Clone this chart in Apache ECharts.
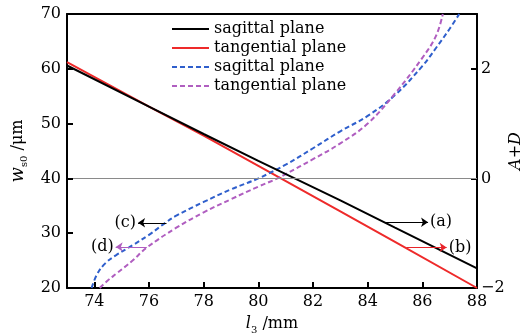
<!DOCTYPE html>
<html>
<head>
<meta charset="utf-8">
<script src="https://cdn.jsdelivr.net/npm/echarts@6/dist/echarts.min.js"></script>
<style>
  html, body { margin: 0; padding: 0; background: #fff; }
  #chart { width: 520px; height: 335px; }
</style>
</head>
<body>
<div id="chart"></div>
<script>
  // waist radius w_s0 (um) vs l3 (mm), solid lines, left axis
  var xSag = [73, 76, 78, 80, 83, 85, 88];
  var wSag = [60.6, 53.1, 48.1, 43.2, 36.0, 31.0, 23.6];
  var xTan = [73, 76, 78, 80, 83, 85, 88];
  var wTan = [61.2, 53.1, 47.8, 42.3, 34.0, 28.4, 20.0];
  // stability parameter A+D, dashed lines, right axis
  var xSagAD = [73.9, 74.1, 74.4, 74.8, 75.4, 76.0, 76.6, 77.0, 78.0, 79.0, 80.0, 81.0, 82.0, 83.0, 84.0, 85.0, 86.0, 86.5, 87.0, 87.35];
  var adSag = [-2, -1.75, -1.55, -1.4, -1.22, -1.03, -0.81, -0.68, -0.43, -0.2, 0, 0.25, 0.55, 0.86, 1.14, 1.52, 2.05, 2.38, 2.73, 3.0];
  var xTanAD = [74.2, 74.5, 74.8, 75.4, 75.9, 77.0, 78.0, 79.0, 80.0, 80.7, 81.0, 82.0, 83.0, 84.0, 85.0, 86.0, 86.5, 86.75];
  var adTan = [-2, -1.86, -1.74, -1.5, -1.27, -0.9, -0.62, -0.38, -0.15, 0, 0.08, 0.35, 0.64, 1.0, 1.55, 2.2, 2.6, 3.0];
  var xTicks = [74, 76, 78, 80, 82, 84, 86, 88];
  var yTicks = [20, 30, 40, 50, 60, 70];
  var seriesNames = ['sagittal plane', 'tangential plane', 'sagittal plane ', 'tangential plane '];
  // arrow annotations (a)-(d), in l3 / w_s0 units
  var annText = ['(a)', '(b)', '(c)', '(d)'];
  var annX0 = [84.63, 85.42, 76.64, 75.92];
  var annX1 = [86.21, 86.89, 75.6, 74.78];
  var annY = [32.0, 27.4, 31.9, 27.5];

  var font = 'DejaVu Serif';
  var annColor = ['#000', '#e8242a', '#000', '#b05ec0'];
  var xMin = 73, xMax = 88, yMin = 20, yMax = 70;
  var tickLenX = 0.22, tickLenY = 1.1; // ~6px inward ticks, in axis units

  function pairs(xs, ys) {
    return xs.map(function (x, i) { return [x, ys[i]]; });
  }

  var annLines = annText.map(function (t, i) {
    return [
      {
        coord: [annX0[i], annY[i]],
        lineStyle: { color: annColor[i], width: 1, type: 'solid' },
        label: { show: true, formatter: t, position: 'end', distance: 2,
          color: '#000', fontFamily: font, fontSize: 16 }
      },
      { coord: [annX1[i], annY[i]] }
    ];
  });

  // inward ticks for the left and bottom axes
  var tickStyle = { color: '#000', width: 2, type: 'solid' };
  var tickLines = [];
  xTicks.slice(0, -1).forEach(function (x) {
    tickLines.push([
      { coord: [x, yMin], symbol: 'none', lineStyle: tickStyle, label: { show: false } },
      { coord: [x, yMin + tickLenY], symbol: 'none' }
    ]);
  });
  yTicks.slice(1, -1).forEach(function (y) {
    tickLines.push([
      { coord: [xMin, y], symbol: 'none', lineStyle: tickStyle, label: { show: false } },
      { coord: [xMin + tickLenX, y], symbol: 'none' }
    ]);
  });

  var chart = echarts.init(document.getElementById('chart'));
  chart.setOption({
    animation: false,
    grid: { left: 67, right: 43, top: 14, bottom: 47, outerBoundsMode: 'none', containLabel: false },
    legend: {
      orient: 'vertical',
      left: 166,
      top: 15,
      itemWidth: 37,
      itemHeight: 10,
      itemGap: 1,
      data: seriesNames,
      itemStyle: { opacity: 0 },
      formatter: function (n) { return n.trim(); },
      textStyle: { fontFamily: font, fontSize: 16, color: '#000', lineHeight: 18 }
    },
    xAxis: [
      {
        type: 'value', min: xMin, max: xMax,
        name: '{i|l}{s|3} /mm',
        nameLocation: 'middle', nameGap: 25, nameMoveOverlap: false,
        nameTextStyle: {
          fontFamily: font, fontSize: 16, color: '#000',
          rich: {
            i: { fontFamily: font, fontStyle: 'italic', fontSize: 16, color: '#000', lineHeight: 20, verticalAlign: 'middle' },
            s: { fontFamily: font, fontSize: 10, color: '#000', lineHeight: 22, verticalAlign: 'bottom' }
          }
        },
        axisLine: { show: true, onZero: false, lineStyle: { color: '#000', width: 2 } },
        axisTick: { show: false },
        axisLabel: { customValues: xTicks, margin: 6, fontFamily: font, fontSize: 16, color: '#000' },
        splitLine: { show: false }
      },
      {
        type: 'value', min: xMin, max: xMax, position: 'top',
        axisLine: { show: true, onZero: false, lineStyle: { color: '#000', width: 2 } },
        axisTick: { show: false }, axisLabel: { show: false }, splitLine: { show: false }
      }
    ],
    yAxis: [
      {
        type: 'value', min: yMin, max: yMax, interval: 10,
        name: '{i|w}{s|s0} /μm',
        nameLocation: 'middle', nameGap: 38, nameRotate: 90, nameMoveOverlap: false,
        nameTextStyle: {
          fontFamily: font, fontSize: 16, color: '#000',
          rich: {
            i: { fontFamily: font, fontStyle: 'italic', fontSize: 18, color: '#000', lineHeight: 20, verticalAlign: 'middle' },
            s: { fontFamily: font, fontSize: 10, color: '#000', lineHeight: 22, verticalAlign: 'bottom' }
          }
        },
        axisLine: { show: true, onZero: false, lineStyle: { color: '#000', width: 2 } },
        axisTick: { show: false },
        axisLabel: { margin: 6, fontFamily: font, fontSize: 16, color: '#000' },
        splitLine: { show: false }
      },
      {
        type: 'value', min: -2, max: 3, interval: 2, position: 'right',
        name: '{i|A+D}',
        nameLocation: 'middle', nameGap: 31, nameRotate: 90, nameMoveOverlap: false,
        nameTextStyle: {
          fontFamily: font, fontSize: 16, color: '#000',
          rich: { i: { fontFamily: font, fontStyle: 'italic', fontSize: 16, color: '#000' } }
        },
        axisLine: { show: true, onZero: false, lineStyle: { color: '#000', width: 2 } },
        axisTick: { show: true, inside: true, length: 6, lineStyle: { color: '#000', width: 2 } },
        axisLabel: {
          margin: 4, showMaxLabel: false, fontFamily: font, fontSize: 16, color: '#000',
          formatter: function (v) { return v === 3 ? '' : String(v).replace('-', '\u2212'); }
        },
        splitLine: { show: false }
      }
    ],
    series: [
      {
        name: seriesNames[0], type: 'line', yAxisIndex: 0, showSymbol: false, symbol: 'none',
        data: pairs(xSag, wSag),
        lineStyle: { color: '#000', width: 2 }, itemStyle: { color: '#000' }, z: 4,
        markLine: {
          silent: true, symbol: ['none', 'arrow'], symbolSize: 7, animation: false,
          data: [
            [
              { coord: [xMin, 40], symbol: 'none', lineStyle: { color: '#8a8a8a', width: 1.2, type: 'solid' }, label: { show: false } },
              { coord: [xMax, 40], symbol: 'none' }
            ]
          ].concat(annLines, tickLines)
        }
      },
      {
        name: seriesNames[1], type: 'line', yAxisIndex: 0, showSymbol: false, symbol: 'none',
        data: pairs(xTan, wTan),
        lineStyle: { color: '#ee2a2a', width: 2 }, itemStyle: { color: '#ee2a2a' }, z: 3
      },
      {
        name: seriesNames[2], type: 'line', yAxisIndex: 1, showSymbol: false, symbol: 'none',
        smooth: 0.4,
        data: pairs(xSagAD, adSag),
        lineStyle: { color: '#2f5fcc', width: 2, type: [5, 3] }, itemStyle: { color: '#2f5fcc' }
      },
      {
        name: seriesNames[3], type: 'line', yAxisIndex: 1, showSymbol: false, symbol: 'none',
        smooth: 0.4,
        data: pairs(xTanAD, adTan),
        lineStyle: { color: '#b05ec0', width: 2, type: [5, 3] }, itemStyle: { color: '#b05ec0' }
      }
    ]
  });
</script>
</body>
</html>
